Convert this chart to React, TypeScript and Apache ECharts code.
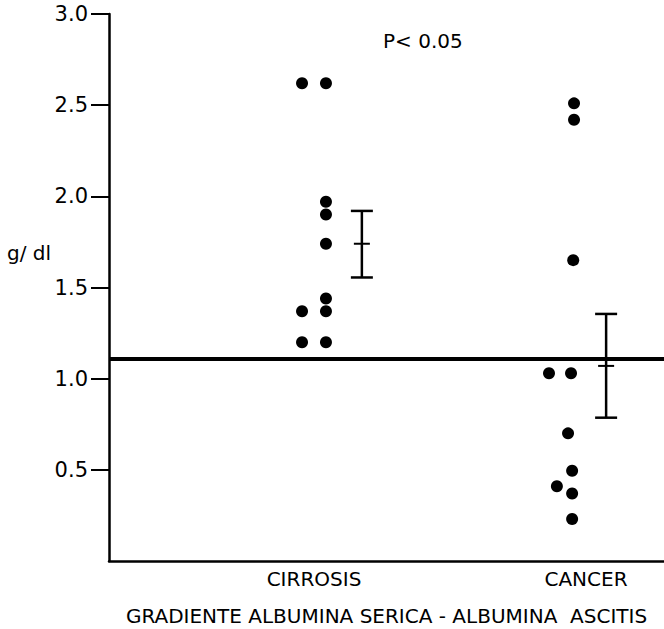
import React, { useEffect, useRef } from "react";
import * as echarts from "echarts";

// Category names and their positions on the x scale
const categories = ["CIRROSIS", "CANCER"];
const categoryPositions = [1, 2];

// Individual values (g/dl) and their horizontal placement in x-axis units
const cirrosisValues = [2.62, 1.37, 1.2, 2.62, 1.97, 1.9, 1.74, 1.44, 1.37, 1.2];
const cirrosisX = [0.956, 0.956, 0.956, 1.044, 1.044, 1.044, 1.044, 1.044, 1.044, 1.044];
const cancerValues = [2.51, 2.42, 1.65, 1.03, 1.03, 0.7, 0.495, 0.41, 0.37, 0.23];
const cancerX = [1.956, 1.956, 1.953, 1.864, 1.945, 1.934, 1.949, 1.893, 1.949, 1.949];

// Mean ± error bars: [x, mean, low, high]
const errorBars = [
  [1.176, 1.74, 1.555, 1.92],
  [2.074, 1.07, 0.786, 1.355],
];

const cutoffValue = 1.11;
const yTicks = [0.5, 1.0, 1.5, 2.0, 2.5, 3.0];

const FONT = "DejaVu Sans";

export default function App() {
  const ref = useRef<HTMLDivElement>(null);
  useEffect(() => {
    if (!ref.current) return;
    const chart = echarts.init(ref.current, null, { renderer: "svg" });
    const points = (xs: number[], vs: number[]) => vs.map((v, i) => [xs[i], v]);
    chart.setOption({
      animation: false,
      backgroundColor: "#fff",
      grid: {
        left: 109,
        right: 0,
        top: 14,
        bottom: 68,
        containLabel: false,
        outerBoundsMode: "none",
      },
      xAxis: {
        type: "value",
        min: 0.2463,
        max: 2.2868,
        splitLine: { show: false },
        axisLine: { show: true, onZero: false, lineStyle: { color: "#000", width: 2.5 } },
        axisTick: { show: false },
        axisLabel: {
          customValues: categoryPositions,
          formatter: (v: number) => {
            const i = categoryPositions.indexOf(Math.round(v));
            return i >= 0 ? categories[i] : "";
          },
          color: "#000",
          fontFamily: FONT,
          fontSize: 20,
          margin: 8,
        },
        name: "GRADIENTE ALBUMINA SERICA - ALBUMINA  ASCITIS",
        nameLocation: "middle",
        nameGap: 44,
        nameTextStyle: { color: "#000", fontFamily: FONT, fontSize: 20, lineHeight: 22 },
      },
      yAxis: {
        type: "value",
        min: 0,
        max: 3,
        interval: 0.5,
        splitLine: { show: false },
        axisLine: { show: true, onZero: false, lineStyle: { color: "#000", width: 2.5 } },
        axisTick: {
          show: true,
          customValues: yTicks,
          length: 18,
          lineStyle: { color: "#000", width: 2 },
        },
        axisLabel: {
          customValues: yTicks,
          formatter: (v: number) => v.toFixed(1),
          color: "#000",
          fontFamily: FONT,
          fontSize: 21,
          margin: 21,
        },
      },
      graphic: [
        {
          type: "text",
          left: 7,
          top: 243,
          style: { text: "g/ dl", fill: "#000", font: `20px ${FONT}` },
        },
        {
          type: "text",
          left: 383,
          top: 31,
          style: { text: "P< 0.05", fill: "#000", font: `20px ${FONT}` },
        },
      ],
      series: [
        {
          type: "scatter",
          name: categories[0],
          data: points(cirrosisX, cirrosisValues),
          symbol: "circle",
          symbolSize: 12,
          itemStyle: { color: "#000", opacity: 1 },
          markLine: {
            silent: true,
            symbol: ["none", "none"],
            label: { show: false },
            lineStyle: { color: "#000", width: 4, type: "solid" },
            data: [{ yAxis: cutoffValue }],
          },
        },
        {
          type: "scatter",
          name: categories[1],
          data: points(cancerX, cancerValues),
          symbol: "circle",
          symbolSize: 12,
          itemStyle: { color: "#000", opacity: 1 },
        },
        {
          type: "custom",
          data: errorBars,
          renderItem: (params: any, api: any) => {
            const x = api.value(0);
            const top = api.coord([x, api.value(3)]);
            const bot = api.coord([x, api.value(2)]);
            const mid = api.coord([x, api.value(1)]);
            const style = { stroke: "#000", lineWidth: 2.5 };
            return {
              type: "group",
              children: [
                { type: "line", shape: { x1: top[0], y1: top[1], x2: bot[0], y2: bot[1] }, style },
                { type: "line", shape: { x1: top[0] - 11, y1: top[1], x2: top[0] + 11, y2: top[1] }, style },
                { type: "line", shape: { x1: bot[0] - 11, y1: bot[1], x2: bot[0] + 11, y2: bot[1] }, style },
                { type: "line", shape: { x1: mid[0] - 8, y1: mid[1], x2: mid[0] + 8, y2: mid[1] }, style: { stroke: "#000", lineWidth: 2 } },
              ],
            };
          },
        },
      ],
    });
    return () => chart.dispose();
  }, []);
  return (
    <div
      ref={ref}
      style={{ position: "fixed", left: 0, top: 0, width: 664, height: 629 }}
    />
  );
}
